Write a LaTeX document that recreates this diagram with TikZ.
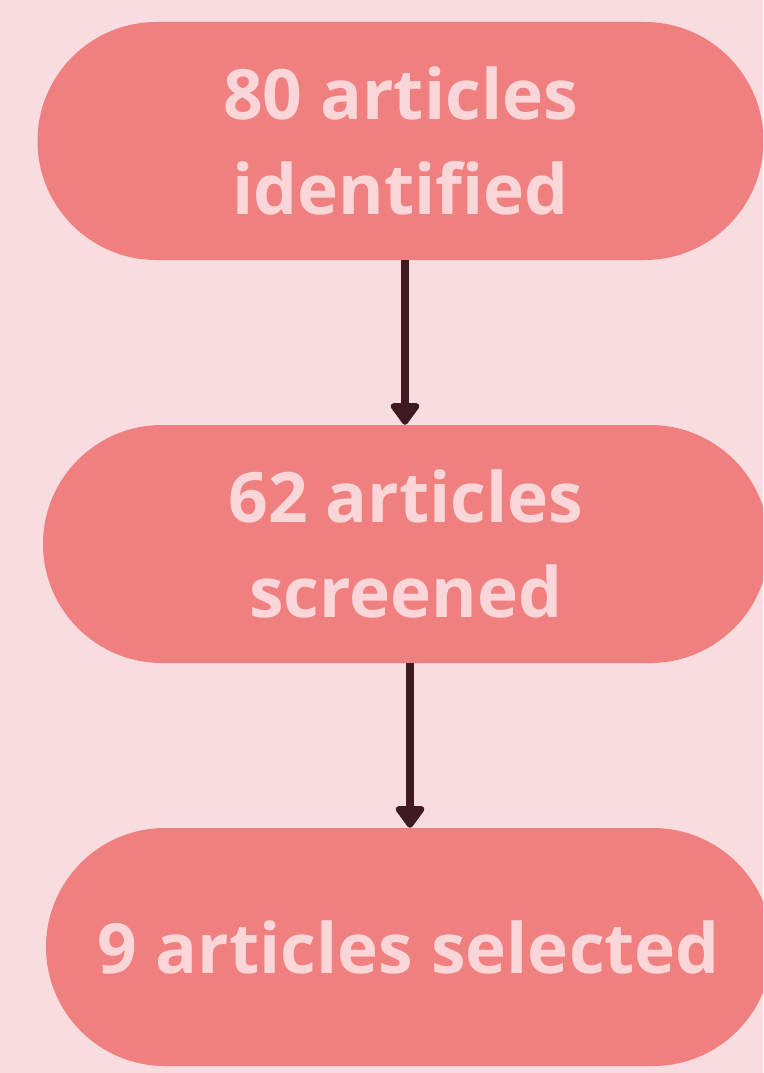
\documentclass[tikz,border=0pt]{standalone}
\usepackage{fontspec}
\setmainfont{Open Sans}
\usetikzlibrary{arrows.meta, positioning, shapes.misc}
\definecolor{mypink}{HTML}{F9DCDF}
\definecolor{myrose}{HTML}{F07F80}
\definecolor{mytext}{HTML}{FAD6D9}
\definecolor{mymaroon}{HTML}{3F1A22}

\begin{document}
\begin{tikzpicture}[x=1pt, y=1pt,
    stage/.style={rounded rectangle, fill=myrose, minimum width=726pt, minimum height=238pt,
                  text=mytext, align=center, inner sep=0pt,
                  font=\fontsize{69.5}{95}\selectfont\bfseries},
    flow/.style={-{Triangle[length=24pt, width=33pt, round]}, line width=8pt, mymaroon}]
    % background
    \fill[mypink] (0,0) rectangle (763,-1073);
    \clip (0,0) rectangle (763,-1073);

    % stages
    \node[stage] (ident) at (400.5,-141) {80 articles\\identified};
    \node[stage] (screen) at (406,-544) {62 articles\\screened};
    \node[stage] (select) at (409,-947) {9 articles selected};

    % arrows
    \draw[flow] (ident.south -| 405,0) -- (screen.north -| 405,0);
    \draw[flow] (screen.south -| 410,0) -- (select.north -| 410,0);
\end{tikzpicture}
\end{document}
